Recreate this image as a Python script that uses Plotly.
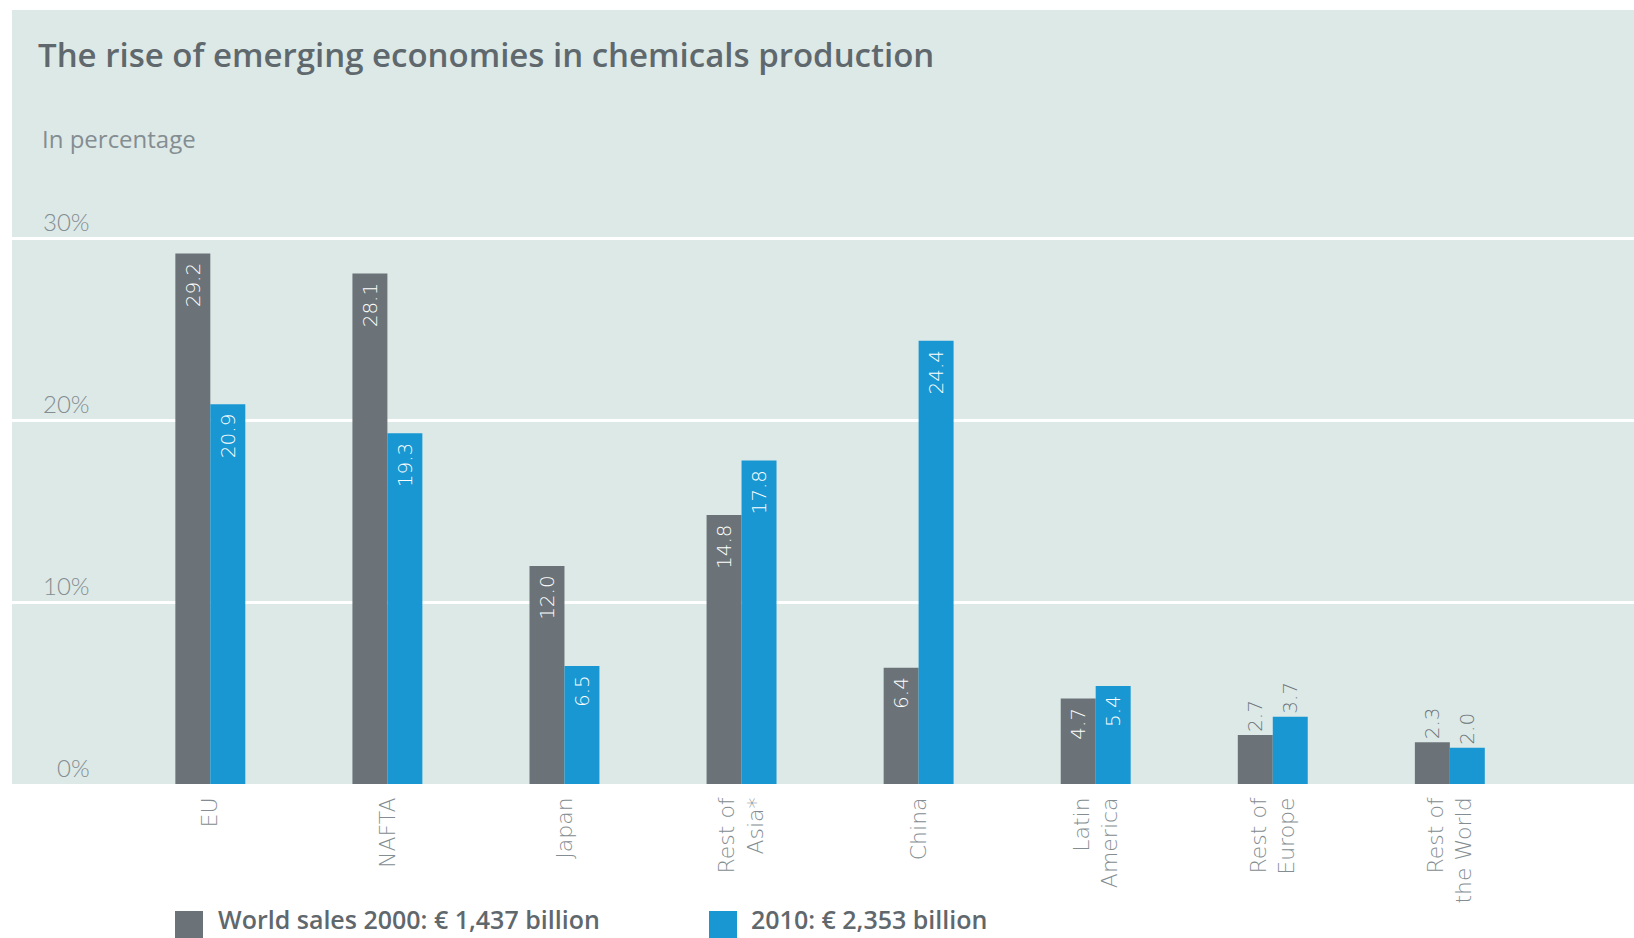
import plotly.graph_objects as go

# Regions and their share of world chemical sales (%)
regions = ["EU", "NAFTA", "Japan", "Rest of<br>Asia*", "China",
           "Latin<br>America", "Rest of<br>Europe", "Rest of<br>the World"]
sales_2000 = [29.2, 28.1, 12.0, 14.8, 6.4, 4.7, 2.7, 2.3]
sales_2010 = [20.9, 19.3, 6.5, 17.8, 24.4, 5.4, 3.7, 2.0]
label_pos_2000 = ["inside"] * 6 + ["outside"] * 2
label_pos_2010 = ["inside"] * 6 + ["outside"] * 2

y_ticks = [0, 10, 20, 30]
y_tick_text = ["0%", "10%", "20%", "30%"]
legend_names = ["World sales 2000: € 1,437 billion", "2010: € 2,353 billion"]

title_text = "The rise of emerging economies in chemicals production"
unit_text = "In percentage"

GREY = "#6b7378"
BLUE = "#1897d3"
PANEL = "#dde9e7"
TEXT_DARK = "#5f686d"
TEXT_LIGHT = "#848d91"

W, H = 1634, 938
ML, MR, MT, MB = 12, 0, 10, 154


def px_x(x):
    return (x - ML) / (W - ML - MR)


def px_y(y):
    return (H - MB - y) / (H - MT - MB)


fig = go.Figure()
for name, vals, pos, color in [
    (legend_names[0], sales_2000, label_pos_2000, GREY),
    (legend_names[1], sales_2010, label_pos_2010, BLUE),
]:
    # inside labels sit a little below the bar top, so pad them with a no-break space
    labels = [f"{v:.1f}\u00a0" if p == "inside" else f"{v:.1f}" for v, p in zip(vals, pos)]
    fig.add_trace(go.Bar(
        x=regions, y=vals, name=name,
        marker=dict(color=color, line=dict(width=0)),
        text=labels,
        textposition=pos,
        textangle=-90,
        insidetextanchor="end",
        constraintext="none",
        insidetextfont=dict(family="DejaVu Sans", size=20, color="white", weight=300),
        outsidetextfont=dict(family="DejaVu Sans", size=20, color=GREY, weight=300),
        cliponaxis=False,
        showlegend=False,
    ))

annotations = [
    dict(text=title_text, x=px_x(36), y=px_y(55), xref="paper", yref="paper",
         xanchor="left", yanchor="middle", showarrow=False,
         font=dict(family="Open Sans", size=33, color=TEXT_DARK, weight=600)),
    dict(text=unit_text, x=px_x(40), y=px_y(139), xref="paper", yref="paper",
         xanchor="left", yanchor="middle", showarrow=False,
         font=dict(family="Open Sans", size=24, color=TEXT_LIGHT)),
]
for v, t in zip(y_ticks, y_tick_text):
    annotations.append(dict(
        text=t, x=px_x(92), y=v, xref="paper", yref="y", yshift=17,
        xanchor="right", yanchor="middle", showarrow=False,
        font=dict(family="Lato", size=24, color=TEXT_LIGHT, weight=300)))

# Legend drawn as swatches with captions beneath the plot
shapes = []
for name, color, x0, tx in [(legend_names[0], GREY, 175, 216),
                            (legend_names[1], BLUE, 709, 749)]:
    shapes.append(dict(type="rect", xref="paper", yref="paper",
                       x0=px_x(x0), x1=px_x(x0 + 28), y0=px_y(940), y1=px_y(911),
                       fillcolor=color, line=dict(width=0)))
    annotations.append(dict(
        text=name, x=px_x(tx), y=px_y(919), xref="paper", yref="paper",
        xanchor="left", yanchor="middle", showarrow=False,
        font=dict(family="Open Sans", size=25, color=TEXT_DARK, weight=600)))

fig.update_layout(
    width=W, height=H,
    margin=dict(l=ML, r=MR, t=MT, b=MB),
    paper_bgcolor="white",
    plot_bgcolor=PANEL,
    barmode="group",
    bargap=0.605,
    bargroupgap=0,
    annotations=annotations,
    shapes=shapes,
    xaxis=dict(
        range=[-1.12, 8.04],
        showgrid=False, zeroline=False, showline=False,
        tickangle=-90, ticks="", ticklabelstandoff=8,
        tickfont=dict(family="DejaVu Sans", size=22, color=TEXT_LIGHT, weight=300),
    ),
    yaxis=dict(
        range=[0, 42.6],
        tickvals=[10, 20, 30],
        showticklabels=False,
        showgrid=True, gridcolor="white", gridwidth=3,
        zeroline=False, showline=False,
    ),
)

fig.write_html("out.html")
